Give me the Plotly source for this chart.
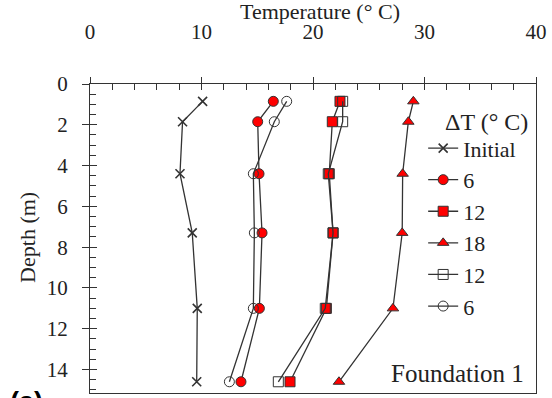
import plotly.graph_objects as go

depth = [0.85, 1.85, 4.4, 7.3, 11.0, 14.6]
t_initial = [10.1, 8.3, 8.07, 9.17, 9.62, 9.57]
t_6_heat = [16.44, 15.04, 15.16, 15.43, 15.19, 13.54]
t_12_heat = [22.42, 21.73, 21.46, 21.8, 21.2, 17.94]
t_18_heat = [29.0, 28.55, 28.04, 28.0, 27.17, 22.33]
t_12_cool = [22.66, 22.66, 21.37, 21.8, 21.1, 16.89]
t_6_cool = [17.64, 16.53, 14.65, 14.74, 14.65, 12.5]

FONT = "Liberation Serif"
LINE = "#333333"
RED = "#ff0000"
TXT = "#222222"

fig = go.Figure()

def add(x, name, symbol, fill, size, xa="x", ya="y", lw=1):
    fig.add_trace(go.Scatter(
        x=x, y=depth, name=name, mode="lines+markers",
        line=dict(color=LINE, width=1.3),
        marker=dict(symbol=symbol, size=size, color=fill,
                    line=dict(color=LINE, width=lw)),
        xaxis=xa, yaxis=ya))

add(t_initial, "Initial", "x-thin", LINE, 9, lw=1.6)
add(t_6_heat, "6", "circle", RED, 10)
add(t_12_heat, "12", "square", RED, 10)
add(t_18_heat, "18", "triangle-up", RED, 10)
add(t_12_cool, "12", "square-open", LINE, 10)
add(t_6_cool, "6", "circle-open", LINE, 10, xa="x2", ya="y2")

xr = [0, 40]
yr = [15.15, 0]
fig.update_layout(
    width=552, height=398,
    margin=dict(l=90, r=16, t=84, b=5),
    paper_bgcolor="white", plot_bgcolor="white",
    font=dict(family=FONT, color=TXT),
    showlegend=True,
    legend=dict(x=0.747, y=0.86, xanchor="left", yanchor="top",
                font=dict(family=FONT, size=22, color=TXT),
                bgcolor="rgba(0,0,0,0)", tracegroupgap=0,
                itemwidth=30),
    xaxis=dict(range=xr, side="top", anchor="y", dtick=10, ticks="outside",
               ticklen=6, tickcolor=LINE, tickwidth=1.2,
               tickfont=dict(family=FONT, size=21, color=TXT),
               ticklabelstandoff=30,
               showline=True, linecolor=LINE, linewidth=1.2, mirror=True,
               showgrid=False, zeroline=False),
    xaxis2=dict(range=xr, side="top", overlaying="x", anchor="y2", dtick=10,
                ticks="inside", ticklen=6, tickcolor=LINE, tickwidth=1.2,
                minor=dict(dtick=2, ticks="inside", ticklen=6, tickcolor=LINE, tickwidth=1),
                showticklabels=False, showline=False, showgrid=False, zeroline=False),
    yaxis=dict(range=yr, side="left", anchor="x", dtick=2, ticks="outside",
               ticklen=7, tickcolor=LINE, tickwidth=1.2,
               tickfont=dict(family=FONT, size=21, color=TXT),
               ticklabelstandoff=10,
               showline=True, linecolor=LINE, linewidth=1.2, mirror=True,
               showgrid=False, zeroline=False),
    yaxis2=dict(range=yr, side="left", overlaying="y", anchor="x2", dtick=2,
                ticks="inside", ticklen=7, tickcolor=LINE, tickwidth=1.2,
                minor=dict(dtick=0.5, ticks="inside", ticklen=6, tickcolor=LINE, tickwidth=1),
                showticklabels=False, showline=False, showgrid=False, zeroline=False),
    annotations=[
        dict(text="Temperature (° C)", x=0.516, y=1.234, xref="paper", yref="paper",
             xanchor="center", yanchor="middle", showarrow=False,
             font=dict(family=FONT, size=22, color=TXT)),
        dict(text="Depth (m)", x=-0.139, y=0.502, xref="paper", yref="paper",
             xanchor="center", yanchor="middle", showarrow=False, textangle=-90,
             font=dict(family=FONT, size=22, color=TXT)),
        dict(text="ΔT (° C)", x=0.791, y=0.877, xref="paper", yref="paper",
             xanchor="left", yanchor="middle", showarrow=False,
             font=dict(family=FONT, size=24, color=TXT)),
        dict(text="Foundation 1", x=0.978, y=0.0615, xref="paper", yref="paper",
             xanchor="right", yanchor="middle", showarrow=False,
             font=dict(family=FONT, size=25, color=TXT)),
        dict(text="<b>(a)</b>", x=-0.183, y=0.025, xref="paper", yref="paper",
             xanchor="left", yanchor="top", showarrow=False,
             font=dict(family="Liberation Sans", size=27, color="#000000")),
    ],
)

fig.write_html("out.html", config={"displayModeBar": False},
               post_script="document.body.style.margin='0';document.body.style.overflow='hidden';")
